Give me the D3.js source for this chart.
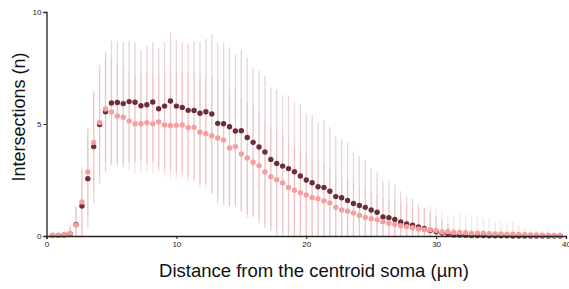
<!DOCTYPE html>
<html>
<head>
<meta charset="utf-8">
<script src="https://cdn.jsdelivr.net/npm/d3@7"></script>
<style>
  html, body { margin: 0; padding: 0; background: #fff; }
  svg { display: block; font-family: "Liberation Sans", Arial, Helvetica, sans-serif; }
</style>
</head>
<body>
<svg id="chart" width="569" height="289"></svg>
<script>
// Sampling step (µm) between radial shells
const step = 40 / 88;

// Mean intersections, darker series
const darkMean = [0.02,0.03,0.05,0.1,0.52,1.34,2.56,3.99,4.98,5.55,
  5.94,5.96,5.91,6.0,5.97,5.82,5.86,5.98,5.68,5.8,
  6.03,5.8,5.74,5.61,5.6,5.48,5.55,5.45,5.03,5.01,
  4.88,4.69,4.7,4.4,4.18,3.97,3.75,3.42,3.24,3.12,
  3.01,2.87,2.68,2.5,2.38,2.2,2.17,2.0,1.76,1.71,
  1.59,1.45,1.36,1.28,1.16,1.06,0.85,0.82,0.74,0.63,
  0.54,0.48,0.4,0.34,0.24,0.19,0.13,0.09,0.05,0.04,
  0.03,0.02,0.02,0.02,0.01,0.01,0.01,0.01,0,0,
  0,0,0,0,0,0,0];
// Standard deviation, darker series
const darkSD = [0.05,0.08,0.15,0.3,0.8,1.6,2.2,2.5,2.65,2.7,
  2.78,2.75,2.75,2.72,2.67,2.48,2.62,2.66,2.7,2.84,
  3.07,2.98,2.9,2.96,3.09,3.18,3.24,3.55,3.57,3.62,
  3.54,3.4,3.63,3.56,3.31,3.41,3.39,3.22,3.31,3.17,
  3.24,3.08,3.21,2.98,3.05,2.86,3.01,2.87,2.7,2.62,
  2.61,2.32,2.21,2.1,1.86,1.77,1.61,1.64,1.54,1.37,
  1.22,1.2,1.0,0.92,0.8,0.7,0.6,0.45,0.3,0.25,
  0.2,0.15,0.12,0.1,0.08,0.06,0.05,0.05,0.03,0.03,
  0.02,0.02,0.02,0.01,0.01,0.01,0.01];
// Mean intersections, lighter series
const lightMean = [0.02,0.03,0.06,0.12,0.49,1.52,2.86,4.18,5.07,5.67,
  5.54,5.36,5.3,5.13,5.01,5.01,5.06,5.01,5.09,4.96,
  4.93,4.94,4.96,4.84,4.85,4.63,4.57,4.48,4.38,4.29,
  3.93,3.99,3.66,3.48,3.29,3.14,2.86,2.65,2.51,2.37,
  2.17,2.04,1.93,1.83,1.71,1.67,1.57,1.48,1.28,1.16,
  1.11,1.03,0.92,0.83,0.77,0.72,0.64,0.57,0.52,0.46,
  0.42,0.37,0.31,0.28,0.28,0.24,0.18,0.19,0.16,0.16,
  0.15,0.13,0.13,0.13,0.1,0.09,0.09,0.08,0.08,0.07,
  0.06,0.05,0.05,0.04,0.04,0.03,0.03];
// Standard deviation, lighter series
const lightSD = [0.05,0.08,0.2,0.4,0.85,1.6,2.0,2.2,2.3,2.3,
  2.3,2.3,2.25,2.2,2.2,2.2,2.25,2.2,2.2,2.3,
  2.35,2.35,2.4,2.4,2.45,2.5,2.5,2.6,2.6,2.65,
  2.6,2.6,2.5,2.5,2.45,2.4,2.3,2.25,2.2,2.1,
  2.0,1.95,1.9,1.85,1.8,1.75,1.7,1.6,1.5,1.45,
  1.4,1.35,1.3,1.25,1.2,1.15,1.1,1.05,1.0,0.98,
  0.95,0.95,0.93,0.95,1.06,1.06,0.95,0.7,0.75,0.81,
  0.78,0.82,0.75,0.69,0.7,0.55,0.53,0.53,0.55,0.4,
  0.35,0.22,0.22,0.22,0.2,0.18,0.15];

const xTicks = [0, 10, 20, 30, 40];
const yTicks = [0, 5, 10];
const xLabel = "Distance from the centroid soma (µm)";
const yLabel = "Intersections (n)";

const svg = d3.select("#chart");
const x = d3.scaleLinear().domain([0, 40]).range([46.5, 566]);
const y = d3.scaleLinear().domain([0, 10]).range([236, 12]);

function rows(mean, sd) {
  return mean.map((m, i) => ({ d: (i + 1) * step, m: m, sd: sd[i] }));
}
const dark = rows(darkMean, darkSD);
const light = rows(lightMean, lightSD);

function bars(data, color, op) {
  svg.append("g").selectAll("line").data(data).join("line")
    .attr("x1", d => x(d.d)).attr("x2", d => x(d.d))
    .attr("y1", d => y(Math.min(10, d.m + d.sd)))
    .attr("y2", d => y(Math.max(0, d.m - d.sd)))
    .attr("stroke", color).attr("stroke-opacity", op).attr("stroke-width", 1.3);
}
bars(dark, "rgb(190,120,130)", 0.32);
bars(light, "rgb(246,158,158)", 0.3);

function dots(data, color) {
  svg.append("g").selectAll("circle").data(data).join("circle")
    .attr("cx", d => x(d.d)).attr("cy", d => y(d.m)).attr("r", 2.7)
    .attr("fill", color);
}
dots(dark, "rgb(108,46,54)");
dots(light, "rgb(246,158,158)");

// axes
const xAxis = svg.append("g").attr("transform", "translate(0,236)")
  .call(d3.axisBottom(x).tickValues(xTicks).tickSize(3).tickPadding(2));
const yAxis = svg.append("g").attr("transform", "translate(46.5,0)")
  .call(d3.axisLeft(y).tickValues(yTicks).tickSize(3).tickPadding(2));
[xAxis, yAxis].forEach(g => {
  g.select(".domain").attr("stroke", "#222").attr("stroke-width", 1.3);
  g.selectAll(".tick line").attr("stroke", "#222");
  g.selectAll("text").attr("font-size", 8).attr("fill", "#222")
    .attr("font-family", "'Liberation Sans', Arial, sans-serif");
});

svg.append("text").attr("x", 314).attr("y", 277).attr("text-anchor", "middle")
  .attr("font-size", 18.5).attr("fill", "#111").text(xLabel);
svg.append("text").attr("transform", "translate(25,117) rotate(-90)")
  .attr("text-anchor", "middle").attr("font-size", 18).attr("fill", "#111").text(yLabel);
</script>
</body>
</html>
